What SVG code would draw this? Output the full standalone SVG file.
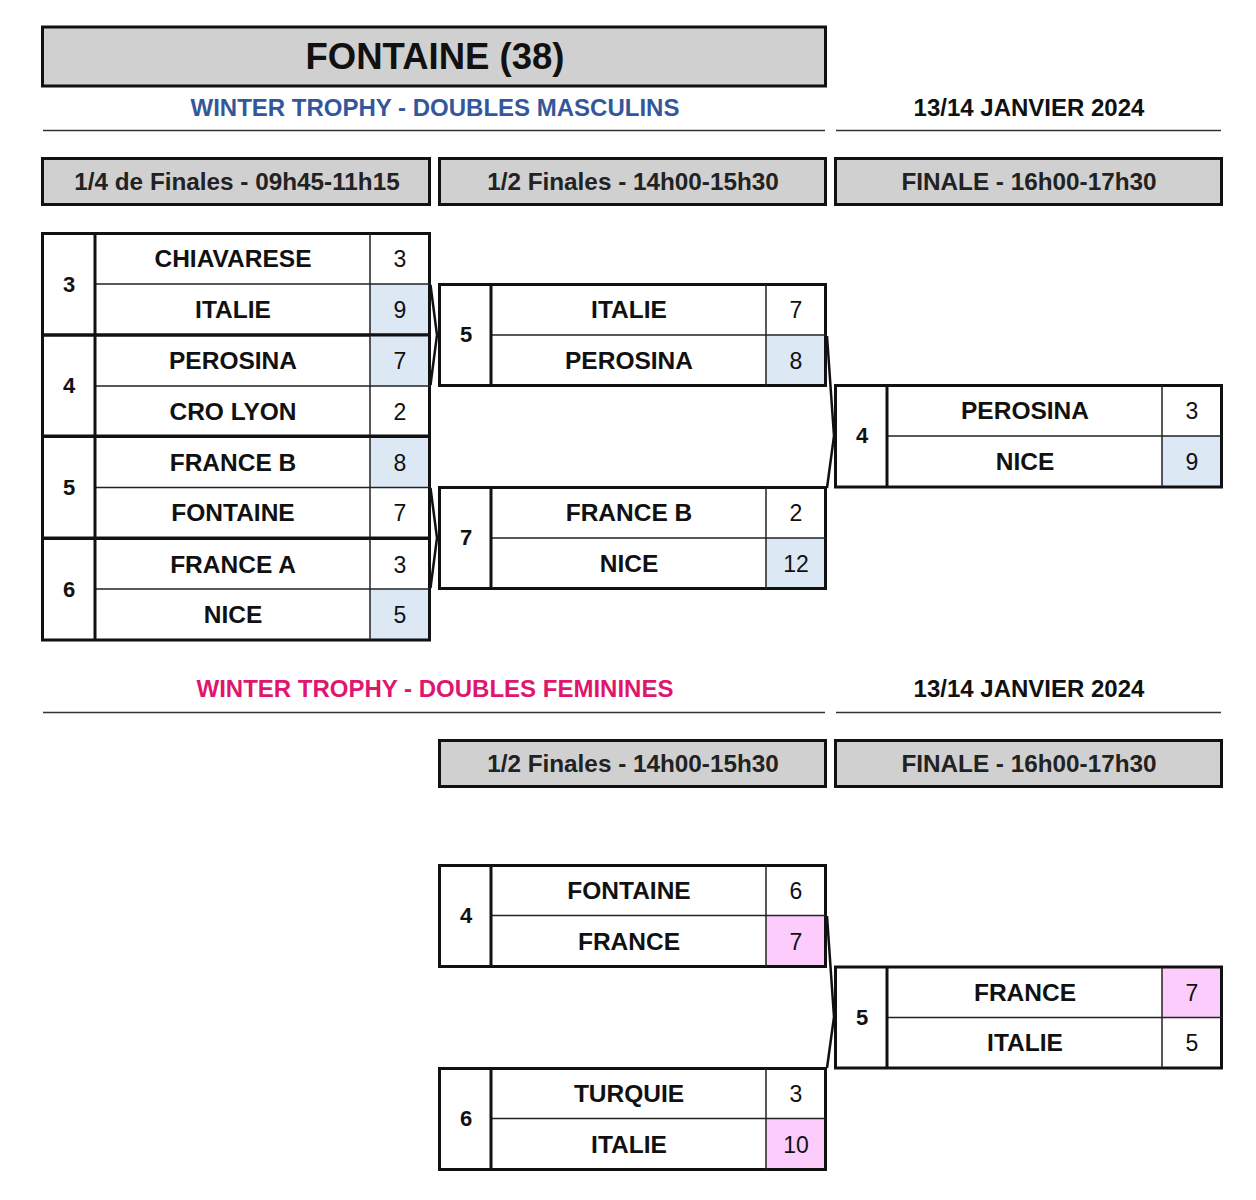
<svg xmlns="http://www.w3.org/2000/svg" width="1256" height="1200" viewBox="0 0 1256 1200">
<style>
text{font-family:"Liberation Sans",Arial,sans-serif;text-anchor:middle;fill:#111}
.title{font-size:36.5px;font-weight:bold}
.sub{font-size:24px;font-weight:bold}
.blue{fill:#33579a}
.pink{fill:#e0166e}
.hdr{font-size:24.3px;font-weight:bold;fill:#222}
.team{font-size:24.5px;font-weight:bold}
.seed{font-size:22px;font-weight:bold}
.score{font-size:23px}
.box{fill:#d0d0d0;stroke:#111;stroke-width:3}
.outer{fill:none;stroke:#111;stroke-width:3}
.thick{stroke:#111;stroke-width:3}
.thin{stroke:#222;stroke-width:1.5}
.rule{stroke:#333;stroke-width:1.5}
.hlb{fill:#dde8f5}
.hlp{fill:#fccdfc}
.conn{fill:none;stroke:#111;stroke-width:2.5;stroke-linejoin:miter}
</style>

<g id="header">
<rect class="box" x="42.5" y="27" width="783" height="59"/>
<text class="title" x="435" y="69">FONTAINE (38)</text>
<text class="sub blue" x="435" y="116">WINTER TROPHY - DOUBLES MASCULINS</text>
<text class="sub" x="1029" y="116">13/14 JANVIER 2024</text>
<line class="rule" x1="43" y1="130.5" x2="825" y2="130.5"/>
<line class="rule" x1="836" y1="130.5" x2="1221" y2="130.5"/>
</g>

<g id="round-headers-m">
<rect class="box" x="42.5" y="158.5" width="387" height="46"/>
<text class="hdr" x="237" y="190">1/4 de Finales - 09h45-11h15</text>
<rect class="box" x="439.5" y="158.5" width="386" height="46"/>
<text class="hdr" x="633" y="190">1/2 Finales - 14h00-15h30</text>
<rect class="box" x="835.5" y="158.5" width="386" height="46"/>
<text class="hdr" x="1029" y="190">FINALE - 16h00-17h30</text>
</g>

<!-- Quarter finals -->
<g id="qf1">
<rect class="hlb" x="370" y="284" width="60" height="51"/>
<rect class="outer" x="42.5" y="233.5" width="387" height="101.5"/>
<line class="thin" x1="95" y1="284" x2="430" y2="284"/>
<line class="thick" x1="95" y1="233" x2="95" y2="335"/>
<line class="thin" x1="370" y1="233" x2="370" y2="335"/>
<text class="seed" x="69" y="292">3</text>
<text class="team" x="233" y="267">CHIAVARESE</text>
<text class="team" x="233" y="318">ITALIE</text>
<text class="score" x="400" y="267">3</text>
<text class="score" x="400" y="318">9</text>
</g>
<g id="qf2">
<rect class="hlb" x="370" y="335" width="60" height="51"/>
<rect class="outer" x="42.5" y="335" width="387" height="101"/>
<line class="thin" x1="95" y1="386" x2="430" y2="386"/>
<line class="thick" x1="95" y1="335" x2="95" y2="436"/>
<line class="thin" x1="370" y1="335" x2="370" y2="436"/>
<text class="seed" x="69" y="393">4</text>
<text class="team" x="233" y="369">PEROSINA</text>
<text class="team" x="233" y="420">CRO LYON</text>
<text class="score" x="400" y="369">7</text>
<text class="score" x="400" y="420">2</text>
</g>
<g id="qf3">
<rect class="hlb" x="370" y="436" width="60" height="51"/>
<rect class="outer" x="42.5" y="436.5" width="387" height="101.5"/>
<line class="thin" x1="95" y1="487.5" x2="430" y2="487.5"/>
<line class="thick" x1="95" y1="436" x2="95" y2="538"/>
<line class="thin" x1="370" y1="436" x2="370" y2="538"/>
<text class="seed" x="69" y="495">5</text>
<text class="team" x="233" y="471">FRANCE B</text>
<text class="team" x="233" y="521">FONTAINE</text>
<text class="score" x="400" y="471">8</text>
<text class="score" x="400" y="521">7</text>
</g>
<g id="qf4">
<rect class="hlb" x="370" y="589" width="60" height="51"/>
<rect class="outer" x="42.5" y="538.5" width="387" height="101.5"/>
<line class="thin" x1="95" y1="589" x2="430" y2="589"/>
<line class="thick" x1="95" y1="538" x2="95" y2="640"/>
<line class="thin" x1="370" y1="538" x2="370" y2="640"/>
<text class="seed" x="69" y="597">6</text>
<text class="team" x="233" y="573">FRANCE A</text>
<text class="team" x="233" y="623">NICE</text>
<text class="score" x="400" y="573">3</text>
<text class="score" x="400" y="623">5</text>
</g>

<!-- Semi finals -->
<g id="sf1">
<rect class="hlb" x="766" y="335" width="60" height="51"/>
<rect class="outer" x="439.5" y="284.5" width="386" height="101"/>
<line class="thin" x1="491" y1="335" x2="826" y2="335"/>
<line class="thick" x1="491" y1="284" x2="491" y2="386"/>
<line class="thin" x1="766" y1="284" x2="766" y2="386"/>
<text class="seed" x="466" y="342">5</text>
<text class="team" x="629" y="318">ITALIE</text>
<text class="team" x="629" y="369">PEROSINA</text>
<text class="score" x="796" y="318">7</text>
<text class="score" x="796" y="369">8</text>
</g>
<g id="sf2">
<rect class="hlb" x="766" y="538" width="60" height="51"/>
<rect class="outer" x="439.5" y="487.5" width="386" height="101"/>
<line class="thin" x1="491" y1="538" x2="826" y2="538"/>
<line class="thick" x1="491" y1="487" x2="491" y2="589"/>
<line class="thin" x1="766" y1="487" x2="766" y2="589"/>
<text class="seed" x="466" y="545">7</text>
<text class="team" x="629" y="521">FRANCE B</text>
<text class="team" x="629" y="572">NICE</text>
<text class="score" x="796" y="521">2</text>
<text class="score" x="796" y="572">12</text>
</g>

<!-- Final -->
<g id="final-m">
<rect class="hlb" x="1162" y="436" width="59" height="51"/>
<rect class="outer" x="835.5" y="385.5" width="386" height="101.5"/>
<line class="thin" x1="887" y1="436" x2="1222" y2="436"/>
<line class="thick" x1="887" y1="385" x2="887" y2="487"/>
<line class="thin" x1="1162" y1="385" x2="1162" y2="487"/>
<text class="seed" x="862" y="443">4</text>
<text class="team" x="1025" y="419">PEROSINA</text>
<text class="team" x="1025" y="470">NICE</text>
<text class="score" x="1192" y="419">3</text>
<text class="score" x="1192" y="470">9</text>
</g>

<!-- Women -->
<g id="header-f">
<text class="sub pink" x="435" y="697">WINTER TROPHY - DOUBLES FEMININES</text>
<text class="sub" x="1029" y="697">13/14 JANVIER 2024</text>
<line class="rule" x1="43" y1="712.5" x2="825" y2="712.5"/>
<line class="rule" x1="836" y1="712.5" x2="1221" y2="712.5"/>
<rect class="box" x="439.5" y="740.5" width="386" height="46"/>
<text class="hdr" x="633" y="772">1/2 Finales - 14h00-15h30</text>
<rect class="box" x="835.5" y="740.5" width="386" height="46"/>
<text class="hdr" x="1029" y="772">FINALE - 16h00-17h30</text>
</g>

<g id="sf1-f">
<rect class="hlp" x="766" y="915.5" width="60" height="51"/>
<rect class="outer" x="439.5" y="865.5" width="386" height="101"/>
<line class="thin" x1="491" y1="915.5" x2="826" y2="915.5"/>
<line class="thick" x1="491" y1="865" x2="491" y2="967"/>
<line class="thin" x1="766" y1="865" x2="766" y2="967"/>
<text class="seed" x="466" y="923">4</text>
<text class="team" x="629" y="899">FONTAINE</text>
<text class="team" x="629" y="950">FRANCE</text>
<text class="score" x="796" y="899">6</text>
<text class="score" x="796" y="950">7</text>
</g>
<g id="sf2-f">
<rect class="hlp" x="766" y="1118.5" width="60" height="51"/>
<rect class="outer" x="439.5" y="1068.5" width="386" height="101"/>
<line class="thin" x1="491" y1="1118.5" x2="826" y2="1118.5"/>
<line class="thick" x1="491" y1="1068" x2="491" y2="1170"/>
<line class="thin" x1="766" y1="1068" x2="766" y2="1170"/>
<text class="seed" x="466" y="1126">6</text>
<text class="team" x="629" y="1102">TURQUIE</text>
<text class="team" x="629" y="1153">ITALIE</text>
<text class="score" x="796" y="1102">3</text>
<text class="score" x="796" y="1153">10</text>
</g>
<g id="final-f">
<rect class="hlp" x="1162" y="967" width="59" height="50.5"/>
<rect class="outer" x="835.5" y="967" width="386" height="101"/>
<line class="thin" x1="887" y1="1017.5" x2="1222" y2="1017.5"/>
<line class="thick" x1="887" y1="967" x2="887" y2="1068"/>
<line class="thin" x1="1162" y1="967" x2="1162" y2="1068"/>
<text class="seed" x="862" y="1025">5</text>
<text class="team" x="1025" y="1001">FRANCE</text>
<text class="team" x="1025" y="1051">ITALIE</text>
<text class="score" x="1192" y="1001">7</text>
<text class="score" x="1192" y="1051">5</text>
</g>

<g id="connectors">
<polyline class="conn" points="430.5,285 437,335 430.5,385"/>
<polyline class="conn" points="430.5,488 437,538 430.5,588"/>
<polyline class="conn" points="827,336 834,436 827,488"/>
<polyline class="conn" points="827,916 834,1017 827,1068"/>
</g>
</svg>
